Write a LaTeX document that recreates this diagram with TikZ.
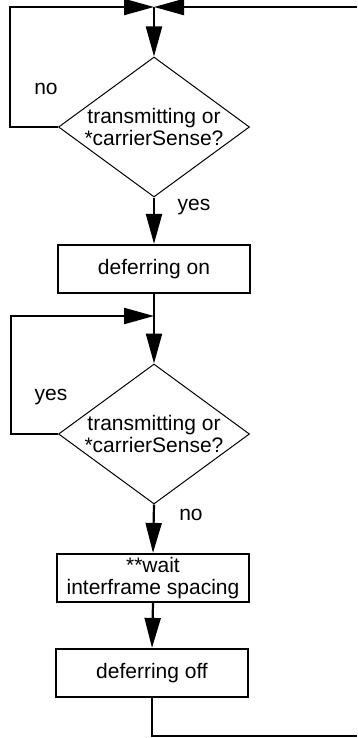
\documentclass[tikz,border=0pt]{standalone}
\usepackage{fontspec}
\setmainfont{Liberation Sans}
\usetikzlibrary{arrows.meta,shapes.geometric}
\begin{document}
\begin{tikzpicture}[x=1pt,y=-1pt,
  every node/.style={font=\fontsize{21}{21.5}\selectfont},
  conn/.style={line width=2.2pt},
  arr/.style={conn,-{Triangle[length=30pt,width=16pt]}},
  procbox/.style={draw,line width=2.2pt,minimum width=192pt,minimum height=48pt,inner sep=0pt,align=center},
  decide/.style={draw,diamond,line width=1pt,minimum width=191pt,minimum height=140pt,inner sep=0pt},
  lbl/.style={inner sep=0pt}]
\useasboundingbox (0,0) rectangle (357,738);
% coordinates
\coordinate (m1) at (154,7);
\coordinate (l1) at (10,7);
\coordinate (r1) at (357,7);
\coordinate (m2) at (154,316);
\coordinate (l2) at (11,316);
\coordinate (r2) at (357,736);
% nodes
\node[decide,label={[align=center,inner sep=0pt]center:transmitting or\\*carrierSense?}] (d1) at (154,127) {};
\node[procbox] (b1) at (154,269) {deferring on};
\node[decide,label={[align=center,inner sep=0pt]center:transmitting or\\*carrierSense?}] (d2) at (154,434) {};
\node[procbox] (b2) at (153,578) {**wait\\interframe spacing};
\node[procbox] (b3) at (152,673) {deferring off};
% labels
\node[lbl] (no1) at (46,89) {no};
\node[lbl] (yes1) at (194,207) {yes};
\node[lbl] (yes2) at (51,397) {yes};
\node[lbl] (no2) at (191,515) {no};
% connectors
\draw[arr] (r1) -- (m1);
\draw[arr] (d1.west) -| (l1) -- (m1);
\draw[arr] (m1) -- (d1.north);
\draw[arr] (d1.south) -- (b1.north);
\draw[conn] (b1.south) -- (m2);
\draw[arr] (d2.west) -| (l2) -- (m2);
\draw[arr] (m2) -- (d2.north);
\draw[arr] (d2.south) -- (b2.north);
\draw[arr] (b2.south) -- (b3.north);
\draw[conn] (b3.south) |- (r2);
\end{tikzpicture}
\end{document}
